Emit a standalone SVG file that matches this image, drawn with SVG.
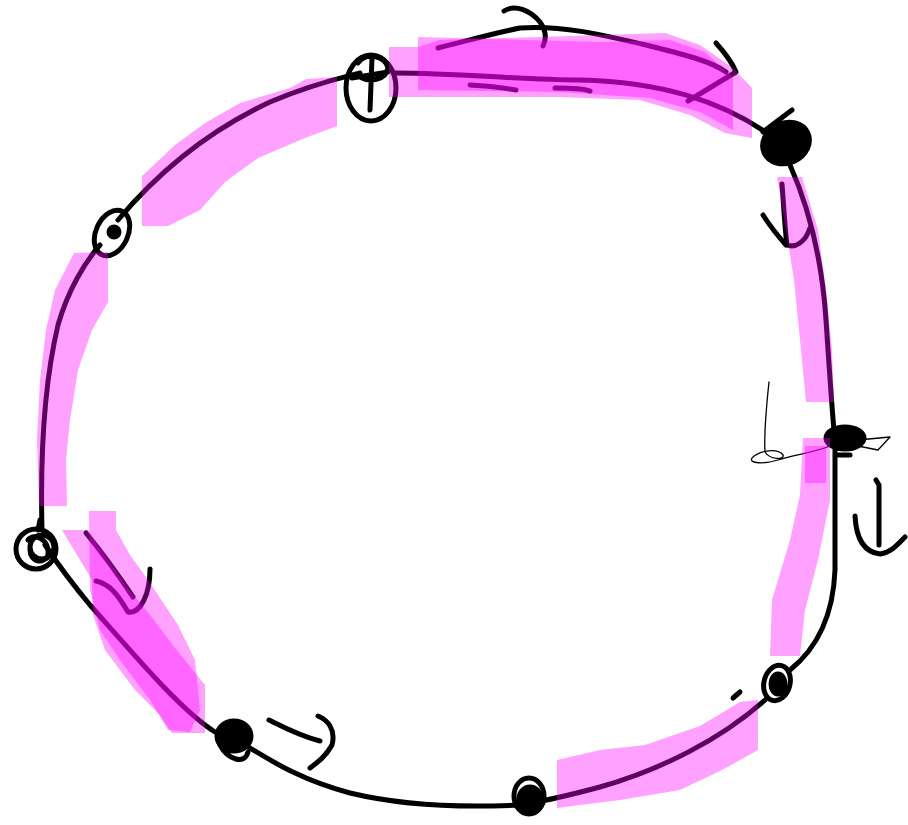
<svg xmlns="http://www.w3.org/2000/svg" width="908" height="825" viewBox="0 0 908 825">
<style>
.ink{fill:none;stroke:#000;stroke-width:5;stroke-linecap:round;stroke-linejoin:round}
.thin{fill:none;stroke:#000;stroke-width:1.3;stroke-linecap:round;stroke-linejoin:round}
.blob{fill:#000;stroke:#000;stroke-width:5;stroke-linejoin:round}
.hl{fill:#ff00ff;fill-opacity:0.37;stroke:none}
</style>
<rect width="908" height="825" fill="#fff"/>
<g id="connectors">
<path class="ink" d="M395,73 C460,73 520,80 580,80 C660,82 720,100 770,135"/>
<path class="ink" d="M790,165 C810,210 822,260 826,320 C830,380 832,410 834,430"/>
<path class="ink" d="M835,450 L835,570 C833,620 815,650 790,670"/>
<path class="ink" d="M765,700 C720,740 660,770 600,787 C570,795 550,800 530,803"/>
<path class="ink" d="M520,805 C460,808 400,805 350,793 C300,780 270,760 245,745"/>
<path class="ink" d="M215,732 C180,710 130,650 90,605 C65,575 55,560 45,545"/>
<path class="ink" d="M42,530 C40,450 45,380 58,325 C68,290 85,262 100,245"/>
<path class="ink" d="M118,220 C160,170 210,130 270,102 C310,85 340,78 360,73"/>
</g>
<g id="annotations">
<path class="ink" d="M438,48 C470,40 495,33 520,28 C560,25 600,34 650,46 C690,56 712,62 726,72"/>
<path class="ink" d="M504,11 C515,4 530,10 540,22 C547,32 546,40 543,46"/>
<path class="ink" d="M716,43 C725,53 732,62 736,72 L688,101"/>
<path class="ink" d="M470,85 C490,86 505,88 516,90"/>
<path class="ink" d="M555,88 C570,88 582,88 590,91"/>
<path class="ink" d="M782,184 C784,210 785,230 787,245 C795,248 805,243 810,228"/>
<path class="ink" d="M763,215 C770,226 778,236 786,245"/>
<path class="thin" d="M769,382 C766,410 764,435 765,452 C770,460 785,460 783,455 C778,448 760,450 752,458 C748,464 765,464 778,460 C795,455 815,452 830,446"/>
<path class="thin" d="M858,440 L890,437 L878,450 L858,446"/>
<path class="ink" d="M876,480 L879,485 L879,545"/>
<path class="ink" d="M855,516 C856,535 862,552 880,554 C892,552 898,544 905,537"/>
<path class="ink" d="M733,698 L740,692"/>
<path class="ink" d="M269,720 C285,728 300,736 320,741"/>
<path class="ink" d="M318,716 C328,720 336,730 332,745 C326,756 318,762 310,768"/>
<path class="ink" d="M86,533 C100,550 115,570 133,597"/>
<path class="ink" d="M96,581 C110,584 118,595 128,612 C140,614 150,595 150,569"/>
</g>
<g id="node-top">
<ellipse class="ink" cx="371" cy="88" rx="25" ry="33"/>
<path class="ink" d="M358,63 C365,52 385,55 388,68 C386,80 370,82 362,78 M372,58 L370,110 M352,78 L388,72"/>
</g>
<g id="node-topright">
<ellipse class="blob" cx="786" cy="143" rx="24" ry="20" transform="rotate(-25 786 143)"/>
<path class="ink" d="M763,132 L792,110"/>
</g>
<g id="node-right">
<ellipse class="blob" cx="845" cy="438" rx="19" ry="11"/>
<path class="ink" d="M838,455 L850,455"/>
</g>
<g id="node-bottomright">
<ellipse class="ink" cx="777" cy="683" rx="13" ry="18" transform="rotate(15 777 683)"/>
<ellipse class="blob" cx="778" cy="684" rx="7" ry="10"/>
</g>
<g id="node-bottom">
<ellipse class="ink" cx="529" cy="796" rx="15" ry="18"/>
<ellipse class="blob" cx="530" cy="799" rx="11" ry="12"/>
</g>
<g id="node-bottomleft">
<ellipse class="blob" cx="234" cy="736" rx="17" ry="15"/>
<path class="ink" d="M220,745 C228,760 245,765 248,752"/>
</g>
<g id="node-left">
<circle class="ink" cx="36" cy="549" r="20"/>
<circle class="ink" cx="42" cy="547" r="12"/>
<path class="ink" d="M28,540 C35,532 50,540 48,555 C44,565 30,562 30,550"/>
<path class="ink" d="M38,530 L40,520"/>
</g>
<g id="node-leftupper">
<ellipse class="ink" cx="112" cy="233" rx="16" ry="24" transform="rotate(25 112 233)"/>
<circle class="blob" cx="114" cy="232" r="5"/>
</g>
<g id="highlights">
<path class="hl" d="M389,47 L418,47 L440,40 L600,35 L665,33 L700,45 L733,68 L752,88 L752,138 L725,133 L690,115 L640,100 L560,97 L470,97 L389,97 Z"/>
<path class="hl" d="M418,37 L600,42 L670,40 L705,52 L733,78 L733,130 L700,112 L650,98 L560,92 L418,90 Z"/>
<path class="hl" d="M142,176 L175,145 L205,123 L240,103 L290,88 L306,79 L337,77 L337,126 L305,138 L258,158 L225,182 L200,210 L168,226 L142,226 Z"/>
<path class="hl" d="M74,253 L108,252 L108,302 L92,330 L78,370 L70,420 L66,460 L67,506 L39,506 L37,440 L40,380 L46,330 L55,290 Z"/>
<path class="hl" d="M62,530 L88,530 L100,548 L125,585 L150,615 L175,648 L205,685 L205,733 L172,733 L160,715 L135,690 L105,650 L93,615 L92,580 Z"/>
<path class="hl" d="M89,511 L116,511 L116,530 L130,555 L148,580 L178,625 L195,660 L200,710 L190,732 L168,730 L150,700 L120,660 L100,630 L90,590 Z"/>
<path class="hl" d="M557,760 L600,750 L645,745 L700,726 L740,702 L758,700 L758,750 L722,770 L680,790 L620,800 L557,808 Z"/>
<path class="hl" d="M777,177 L802,177 L818,230 L826,290 L832,350 L834,402 L806,402 L800,340 L794,280 L786,230 Z"/>
<path class="hl" d="M803,438 L830,438 L830,500 L818,560 L805,610 L800,656 L770,656 L772,600 L790,540 L800,495 Z"/>
<rect class="hl" x="805" y="446" width="21" height="37"/>
</g>
</svg>
